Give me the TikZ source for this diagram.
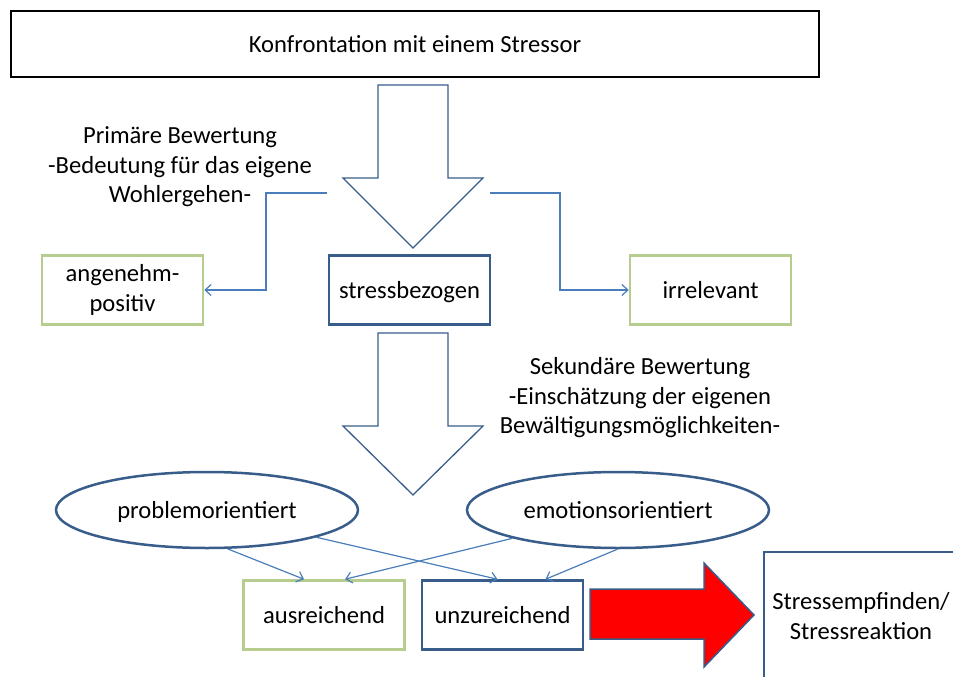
\documentclass[tikz,border=0pt]{standalone}
\usepackage{fontspec}
\setmainfont{Carlito}
\usetikzlibrary{arrows.meta,shapes.geometric}
\definecolor{FrameBlue}{HTML}{385D8A}
\definecolor{LinkBlue}{HTML}{4A7EBB}
\definecolor{PaleOlive}{HTML}{B7CC8F}

\begin{document}
\begin{tikzpicture}[
    x=1pt, y=-1pt,
    font=\fontsize{24.6}{29.5}\selectfont,
    box/.style={draw=PaleOlive, line width=2.5pt, fill=white, minimum width=161pt, minimum height=69pt, align=center, inner sep=0pt},
    oneline/.style={text height=18pt, text depth=1pt},
    keybox/.style={box, oneline, draw=FrameBlue},
    coping/.style={ellipse, oneline, draw=FrameBlue, line width=2.5pt, fill=white, minimum width=302pt, minimum height=76pt, inner sep=0pt},
    link/.style={-{Straight Barb[length=6pt,width=11pt]}, line width=1.2pt, color=LinkBlue},
    hollow/.style={draw=FrameBlue, line width=1.3pt, line join=miter},
    note/.style={align=center}
  ]
    \useasboundingbox (0,0) rectangle (953,677);

    \node[draw, line width=2.5pt, minimum width=808pt, minimum height=66pt, inner sep=0pt] (stressor) at (415,44) {Konfrontation mit einem Stressor};

    % primaere Bewertung
    \draw[hollow] (378,85) -- (448,85) -- (448,178) -- (483,178) -- (413,248) -- (343,178) -- (378,178) -- cycle;
    \node[note] (primary) at (180,167) {Primäre Bewertung\\-Bedeutung für das eigene\\Wohlergehen-};
    \node[box] (positive) at (122.5,290) {angenehm-\\positiv};
    \node[keybox] (stressful) at (409.5,290) {stressbezogen};
    \node[box, oneline] (irrelevant) at (710.5,290) {irrelevant};
    \coordinate (primleft) at (327,193);
    \coordinate (primright) at (490,193);
    \draw[link] (primleft) -- ++(-61,0) |- (positive);
    \draw[link] (primright) -- ++(70,0) |- (irrelevant);

    % sekundaere Bewertung
    \draw[hollow] (378,333) -- (448,333) -- (448,426) -- (483,426) -- (413,495) -- (343,426) -- (378,426) -- cycle;
    \node[note] (secondary) at (640,398) {Sekundäre Bewertung\\-Einschätzung der eigenen\\Bewältigungsmöglichkeiten-};
    \node[coping] (problem) at (207,510) {problemorientiert};
    \node[coping] (emotion) at (618,510) {emotionsorientiert};
    \node[box, oneline] (enough) at (324,615) {ausreichend};
    \node[keybox] (notenough) at (502.5,615) {unzureichend};
    \draw[link] (problem.-62) -- ([xshift=-20pt]enough.north);
    \draw[link] (problem.-14.5) -- ([xshift=-5pt]notenough.north);
    \draw[link] (emotion.-165.5) -- ([xshift=21pt]enough.north);
    \draw[link] (emotion.-91) -- ([xshift=43pt]notenough.north);

    % Stressreaktion
    \draw[draw=FrameBlue, line width=1.5pt, fill=red] (590,589) -- (704,589) -- (704,563) -- (754,615) -- (704,667) -- (704,639) -- (590,639) -- cycle;
    \node[draw=FrameBlue, line width=2pt, anchor=north west, minimum width=300pt, minimum height=200pt] (reaction) at (763,551) {};
    \node[note] (reactiontext) at (861,616) {Stressempfinden/\\Stressreaktion};
  \end{tikzpicture}
\end{document}
